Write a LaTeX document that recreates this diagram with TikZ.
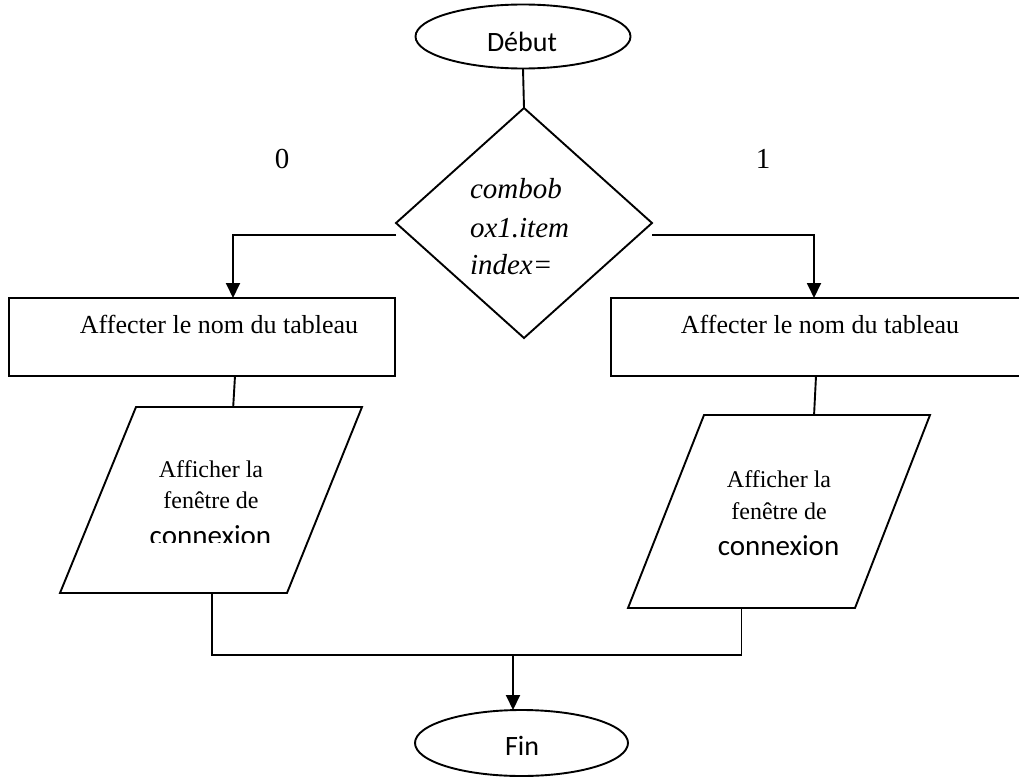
\documentclass[tikz,border=0pt]{standalone}
\usepackage{fontspec}
\setmainfont{Liberation Serif}
\newfontfamily\uifont{Carlito}
\usetikzlibrary{arrows.meta,shapes.geometric,calc}
\begin{document}
\begin{tikzpicture}[x=1pt,y=-1pt,
  every node/.style={inner sep=0pt,outer sep=0pt},
  outline/.style={draw,line width=1.9pt},
  terminal/.style={outline,ellipse,minimum width=215pt,minimum height=64pt},
  process/.style={outline,rectangle,anchor=north west,minimum height=78pt},
  decision/.style={outline,diamond,minimum width=256pt,minimum height=230pt},
  io/.style={outline,line join=miter},
  link/.style={line width=1.9pt},
  flow/.style={link,-{Triangle[width=14pt,length=15pt]}},
  bodytext/.style={anchor=base,font=\fontsize{26}{30}\selectfont},
  smalltext/.style={anchor=base,font=\fontsize{24}{30}\selectfont},
  uitext/.style={anchor=base,font=\uifont\fontsize{28}{32}\selectfont},
  connex/.style={anchor=base,font=\uifont\fontsize{29}{32}\selectfont},
  condtext/.style={anchor=base west,font=\itshape\fontsize{29}{38}\selectfont},
  branchtext/.style={anchor=base,font=\fontsize{29}{34}\selectfont},
]
\useasboundingbox (0,0) rectangle (1019,776);
\clip (0,0) rectangle (1019,776);

% start
\node[terminal] (debut) at (523,36.5) {};
\node[uitext] (debutlbl) at (522,52) {Début};

% decision
\node[decision] (cond) at (524,223) {};
\node[condtext] (cond1) at (470,198) {combob};
\node[condtext] (cond2) at (470,237) {ox1.item};
\node[condtext] (cond3) at (470,274) {index=};
\node[branchtext] (zero) at (282,168) {0};
\node[branchtext] (one) at (763,168) {1};

% assignments
\node[process,minimum width=386pt] (setL) at (9,298) {};
\node[bodytext] (setLlbl) at (219,333) {Affecter le nom du tableau};
\node[process,minimum width=418pt] (setR) at (611,298) {};
\node[bodytext] (setRlbl) at (820,333) {Affecter le nom du tableau};

% output windows (parallelograms)
\draw[io] (136,407) coordinate (showL-tl) -- (362,407) coordinate (showL-tr)
  -- (287,593) coordinate (showL-br) -- (60,593) coordinate (showL-bl) -- cycle;
\node[smalltext] (showL1) at (211,477) {Afficher la};
\node[smalltext] (showL2) at (211,508) {fenêtre de};
\begin{scope}
  % the last line is cut off by the bottom of its text frame
  \clip (0,0) rectangle (1019,542.5);
  \node[connex] (showL3) at (210.5,545.5) {connexion};
\end{scope}

\draw[io] (704,415) coordinate (showR-tl) -- (930,415) coordinate (showR-tr)
  -- (855,608) coordinate (showR-br) -- (628,608) coordinate (showR-bl) -- cycle;
\node[smalltext] (showR1) at (779,487) {Afficher la};
\node[smalltext] (showR2) at (779,519) {fenêtre de};
\node[connex] (showR3) at (778.5,555.5) {connexion};

% end
\node[terminal,minimum width=213pt,minimum height=66pt] (fin) at (521.5,743) {};
\node[uitext] (finlbl) at (522,755) {Fin};

% connectors
\draw[link] (debut.south) -- (cond.north);
\draw[flow] ([yshift=-12pt]cond.west) -| ([xshift=31pt]setL.north);
\draw[flow] ([yshift=-12pt]cond.east) -| ([xshift=-6pt]setR.north);
\draw[link] ([xshift=33pt]setL.south) -- ($(showL-tl)!0.43!(showL-tr)$);
\draw[link] ([xshift=-4pt]setR.south) -- ($(showR-tl)!0.487!(showR-tr)$);
\coordinate (merge) at (513,655);
\draw[link] ($(showL-bl)!0.67!(showL-br)$) |- (merge)
  -| ($(showR-bl)!0.5!(showR-br)$);
\draw[flow] (merge) -- (merge |- fin.north);
\end{tikzpicture}
\end{document}
